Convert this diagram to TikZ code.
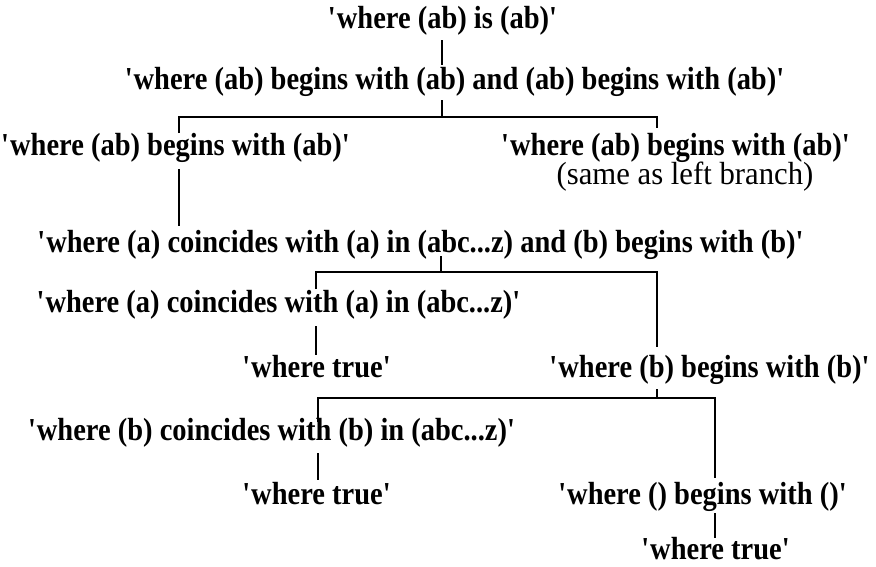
\documentclass[tikz,border=0pt]{standalone}
\usepackage{fontspec}
\setmainfont{Liberation Serif}[FakeStretch=0.89]
\newfontfamily\notefont{Liberation Serif}[FakeStretch=0.96]
\newcommand{\oq}{\textquotesingle}
\begin{document}
\begin{tikzpicture}[x=1pt,y=-1pt,
  term/.style={anchor=base,inner sep=0pt,font=\fontsize{32}{35}\selectfont\bfseries},
  note/.style={anchor=base,inner sep=0pt,font=\notefont\fontsize{32}{35}\selectfont},
  link/.style={line width=1.8pt,line cap=butt}]
\useasboundingbox (0,0) rectangle (876,566);

% terms of the derivation
\node[term] (r1)  at (443,28)  {\oq where (ab) is (ab)\oq};
\node[term] (r2)  at (455,89)  {\oq where (ab) begins with (ab) and (ab) begins with (ab)\oq};
\node[term] (r3l) at (176,155) {\oq where (ab) begins with (ab)\oq};
\node[term] (r3r) at (676,155) {\oq where (ab) begins with (ab)\oq};
\node[note] (r3n) at (685,184) {(same as left branch)};
\node[term] (r4)  at (421,252) {\oq where (a) coincides with (a) in (abc...z) and (b) begins with (b)\oq};
\node[term] (r5)  at (279,312) {\oq where (a) coincides with (a) in (abc...z)\oq};
\node[term] (r6l) at (317,377) {\oq where true\oq};
\node[term] (r6r) at (710,377) {\oq where (b) begins with (b)\oq};
\node[term] (r7)  at (272,440) {\oq where (b) coincides with (b) in (abc...z)\oq};
\node[term] (r8l) at (317,504) {\oq where true\oq};
\node[term] (r8r) at (703,504) {\oq where () begins with ()\oq};
\node[term] (r9)  at (716,559) {\oq where true\oq};

% tree links
\coordinate (a1) at (442,40);  \coordinate (a2) at (442,65);
\draw[link] (a1) -- (a2);

\coordinate (b0) at (442,100); \coordinate (b1) at (442,117);
\coordinate (bl) at (179,133); \coordinate (br) at (657,128);
\draw[link] (b0) -- (b1);
\draw[link] (bl) |- (b1) -| (br);

\coordinate (c1) at (179,169); \coordinate (c2) at (179,226);
\draw[link] (c1) -- (c2);

\coordinate (d0) at (441,256); \coordinate (d1) at (441,272);
\coordinate (dl) at (316,289); \coordinate (dr) at (657,347);
\draw[link] (d0) -- (d1);
\draw[link] (dl) |- (d1) -| (dr);

\coordinate (e1) at (316,326); \coordinate (e2) at (316,355);
\draw[link] (e1) -- (e2);

\coordinate (f0) at (657,389); \coordinate (f1) at (657,398);
\coordinate (fl) at (318,422); \coordinate (fr) at (715,478);
\draw[link] (f0) -- (f1);
\draw[link] (fl) |- (f1) -| (fr);

\coordinate (g1) at (318,453); \coordinate (g2) at (318,480);
\draw[link] (g1) -- (g2);

\coordinate (h1) at (715,513); \coordinate (h2) at (715,538);
\draw[link] (h1) -- (h2);
\end{tikzpicture}
\end{document}
